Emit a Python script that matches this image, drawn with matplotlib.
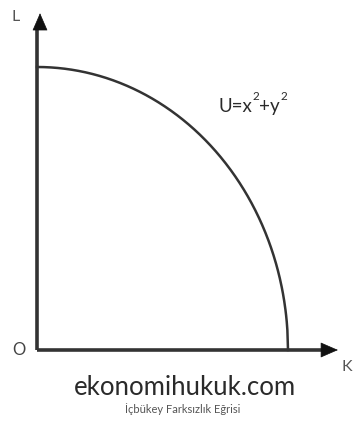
import numpy as np
import matplotlib
matplotlib.use("Agg")
import matplotlib.pyplot as plt

plt.rcParams['font.family'] = ['Lato', 'DejaVu Sans']

# Utility level of the curve U = x^2 + y^2 and the axis extents
utility_level = 1.0
x_axis_end = 1.21
y_axis_end = 1.20
axis_labels = ["L", "K", "O"]
title_text = "ekonomihukuk.com"
subtitle_text = "İçbükey Farksızlık Eğrisi"

W, H = 355, 423
fig = plt.figure(figsize=(W / 100, H / 100), dpi=100)
ax = fig.add_axes([0, 0, 1, 1])
sx, sy = 251.0, 283.0          # pixels per data unit
ox, oy = 37.0, 350.0           # origin in pixels (from top-left)
ax.set_xlim(-ox / sx, (W - ox) / sx)
ax.set_ylim(-(H - oy) / sy, oy / sy)
ax.axis("off")


def px(x, y):
    """Pixel position (from top-left) to data coordinates."""
    return (x - ox) / sx, -(y - oy) / sy


axis_col = "#333333"
# axes with arrowheads
ax.plot([0, 0], [0, y_axis_end - 0.05], color=axis_col, lw=2.6, solid_capstyle="butt")
ax.plot([0, x_axis_end - 0.05], [0, 0], color=axis_col, lw=2.6, solid_capstyle="butt")
ax.annotate("", xy=(0.012, y_axis_end), xytext=(0.012, y_axis_end - 0.06),
            arrowprops=dict(arrowstyle="-|>,head_length=1.15,head_width=0.5",
                            color="#111111", lw=0.5))
ax.annotate("", xy=(x_axis_end, 0.0), xytext=(x_axis_end - 0.06, 0.0),
            arrowprops=dict(arrowstyle="-|>,head_length=1.15,head_width=0.5",
                            color="#111111", lw=0.5))

# indifference curve: points with x^2 + y^2 = U
r = np.sqrt(utility_level)
xs = np.linspace(0, r, 400)
ys = np.sqrt(np.clip(utility_level - xs ** 2, 0, None))
ax.plot(xs, ys, color=axis_col, lw=1.8)

# axis labels
ax.text(*px(16, 17), axis_labels[0], fontsize=11.5, color="#555555",
        ha="center", va="center")
ax.text(*px(347, 367), axis_labels[1], fontsize=11.5, color="#555555",
        ha="center", va="center")
ax.text(*px(19, 350), axis_labels[2], fontsize=12, color="#444444",
        ha="center", va="center")

# curve label, built from pieces so the exponents sit tight
fig.canvas.draw()
renderer = fig.canvas.get_renderer()


def piece(x_disp, y_pix, s, size):
    t = ax.text(*px(x_disp, y_pix), s, fontsize=size, color="#2a2a2a",
                ha="left", va="baseline")
    bb = t.get_window_extent(renderer)
    return bb.x1 + 0.3  # right edge in display pixels


main_size, sup_size = 13.5, 8.5
xr = piece(218, 112, "U=x", main_size)
xr = piece(xr, 100, "2", sup_size)
xr = piece(xr, 112, "+y", main_size)
piece(xr, 100, "2", sup_size)

ax.text(*px(185, 387), title_text, fontsize=18.5,
        color="#2a2a2a", ha="center", va="center")
ax.text(*px(183, 409), subtitle_text, fontsize=8,
        color="#555555", ha="center", va="center")

fig.savefig("out.png", dpi=100, facecolor="white")
